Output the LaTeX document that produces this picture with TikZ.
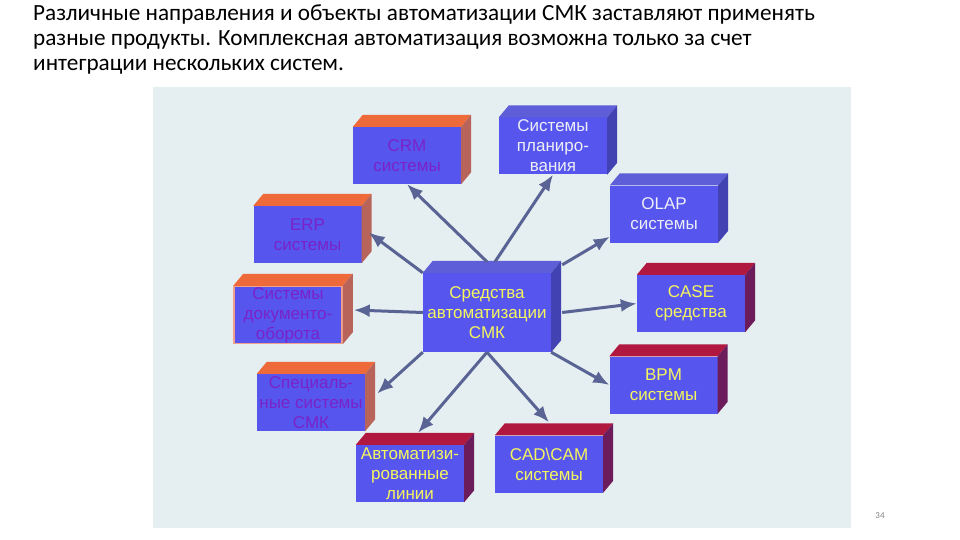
\documentclass[tikz,border=0pt]{standalone}
\usepackage{fontspec}
\setmainfont{Liberation Sans}
\newfontfamily\titlefont{Carlito}
\usepackage{tikz}
\usetikzlibrary{arrows.meta}
\definecolor{panelbg}{HTML}{E5EEF0}
\definecolor{facebl}{HTML}{5656EE}
\definecolor{ortop}{HTML}{EE6A3A}
\definecolor{orside}{HTML}{B8645A}
\definecolor{bltop}{HTML}{5E5ED8}
\definecolor{blside}{HTML}{4242B2}
\definecolor{rdtop}{HTML}{B01840}
\definecolor{rdside}{HTML}{6C1C5A}
\definecolor{docedge}{HTML}{F2A08C}
\definecolor{txpurple}{HTML}{7A22C8}
\definecolor{txyellow}{HTML}{F6F65E}
\definecolor{txwhite}{HTML}{EEEEF6}
\definecolor{arrcol}{HTML}{5A6494}
\tikzset{>=latex}
\tikzstyle{face} = [rectangle, fill=facebl, minimum width=108pt, minimum height=57pt, inner sep=0pt, align=center, font=\fontsize{17}{20}\selectfont]
\tikzstyle{link} = [draw=arrcol, line width=3pt, -{Latex[length=16pt,width=13pt]}]
\tikzstyle{headline} = [anchor=base west, inner sep=0pt, font=\titlefont\fontsize{23.2}{25}\selectfont]

\begin{document}
\begin{tikzpicture}[x=1pt, y=-1pt]
\useasboundingbox (0,0) rectangle (960,540);
\fill [panelbg] (153,87) rectangle (851,528);
\node [headline] (t1) at (33,21) {Различные направления и объекты автоматизации СМК заставляют применять};
\node [headline] (t2) at (33,46) {разные продукты. Комплексная автоматизация возможна только за счет};
\node [headline] (t3) at (33,71) {интеграции нескольких систем.};
\node [anchor=base, text=gray, font=\titlefont\fontsize{9}{10}\selectfont] (pg) at (880,518) {34};
\node [face, text=txpurple] (crm) at (407,155.5) {CRM\\системы};
\node [face, text=txwhite] (plan) at (553,146) {Системы\\планиро-\\вания};
\node [face, text=txwhite] (olap) at (664,214) {OLAP\\системы};
\node [face, text=txpurple] (erp) at (307.5,234.5) {ERP\\системы};
\node [face, text=txpurple, draw=docedge, line width=1.5pt] (doc) at (288,315) {Системы\\документо-\\оборота};
\node [face, text=txpurple] (spec) at (311,402.5) {Специаль-\\ные системы\\СМК};
\node [face, text=txyellow] (auto) at (410,473.5) {Автоматизи-\\рованные\\линии};
\node [face, text=txyellow, minimum width=128pt, minimum height=79pt] (cen) at (487,312.5) {Средства\\автоматизации\\СМК};
\node [face, text=txyellow] (case) at (691,303.5) {CASE\\средства};
\node [face, text=txyellow] (bpm) at (663.5,385) {BPM\\системы};
\node [face, text=txyellow] (cad) at (549,464) {CAD\textbackslash CAM\\системы};
\foreach \n/\tc/\sc in {crm/ortop/orside, erp/ortop/orside, doc/ortop/orside, spec/ortop/orside, plan/bltop/blside, olap/bltop/blside, cen/bltop/blside, case/rdtop/rdside, bpm/rdtop/rdside, auto/rdtop/rdside, cad/rdtop/rdside} {
  \fill [\tc] (\n.north west) -- ([shift={(10pt,12pt)}]\n.north west) -- ([shift={(10pt,12pt)}]\n.north east) -- (\n.north east) -- cycle;
  \fill [\sc] (\n.north east) -- ([shift={(10pt,12pt)}]\n.north east) -- ([shift={(10pt,12pt)}]\n.south east) -- (\n.south east) -- cycle;
}
\draw [link] ([yshift=11pt]cen.north) to (crm.south);
\draw [link] ([shift={(8pt,11pt)}]cen.north) to (plan.south);
\draw [link] (cen.north west) to ([shift={(7pt,2pt)}]erp.east);
\draw [link] ([shift={(11pt,8pt)}]cen.north east) to ([yshift=6pt]olap.south west);
\draw [link] (cen.west) to ([shift={(11pt,5pt)}]doc.east);
\draw [link] ([xshift=11pt]cen.east) to (case.west);
\draw [link] (cen.south west) to ([shift={(12pt,9pt)}]spec.east);
\draw [link] (cen.south east) to (bpm.west);
\draw [link] (cen.south) to ([shift={(8pt,12pt)}]auto.north);
\draw [link] (cen.south) to ([yshift=13pt]cad.north);
\end{tikzpicture}
\end{document}
